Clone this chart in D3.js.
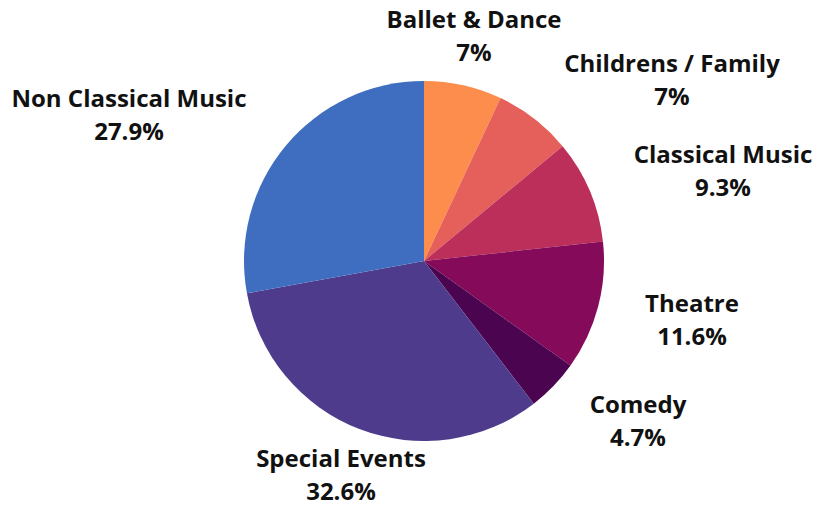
<!DOCTYPE html>
<html>
<head>
<meta charset="utf-8">
<script src="https://cdn.jsdelivr.net/npm/d3@7"></script>
<style>
  body { margin: 0; background: #fff; }
  svg text { font-family: "Open Sans", sans-serif; font-weight: 700; fill: #111; }
</style>
</head>
<body>
<svg id="chart" width="817" height="508"></svg>
<script>
// --- Data ---
const categories = ['Ballet & Dance', 'Childrens / Family', 'Classical Music', 'Theatre',
                    'Comedy', 'Special Events', 'Non Classical Music'];
const shares = [7, 7, 9.3, 11.6, 4.7, 32.6, 27.9];
const shareLabels = ['7%', '7%', '9.3%', '11.6%', '4.7%', '32.6%', '27.9%'];

// --- Layout / style ---
const colors = ['#fc8d4c', '#e5605a', '#bb2f5a', '#860a5a', '#4a0450', '#4f3b8c', '#3f6ec0'];
// label centre x and first baseline y, placed like the original
const labelPos = [[474, 28], [672, 72], [723, 163], [692, 312], [638, 413], [341, 467], [129, 107]];
const cx = 424, cy = 261, radius = 180;

function drawPie() {
    const svg = d3.select('#chart');

    const pie = d3.pie().sort(null).value(d => d);
    const arc = d3.arc().innerRadius(0).outerRadius(radius);
    const color = d3.scaleOrdinal().domain(categories).range(colors);

    const g = svg.append('g').attr('transform', `translate(${cx},${cy})`);

    g.selectAll('path')
        .data(pie(shares))
        .join('path')
        .attr('d', arc)
        .attr('fill', (d, i) => color(categories[i]));

    // two-line labels: name then share
    const labels = svg.selectAll('text.lbl')
        .data(categories)
        .join('text')
        .attr('class', 'lbl')
        .attr('text-anchor', 'middle')
        .attr('font-size', 24)
        .attr('x', (d, i) => labelPos[i][0])
        .attr('y', (d, i) => labelPos[i][1]);

    labels.append('tspan').text(d => d);
    labels.append('tspan')
        .attr('x', (d, i) => labelPos[i][0])
        .attr('dy', 33)
        .text((d, i) => shareLabels[i]);
}

drawPie();
</script>
</body>
</html>
